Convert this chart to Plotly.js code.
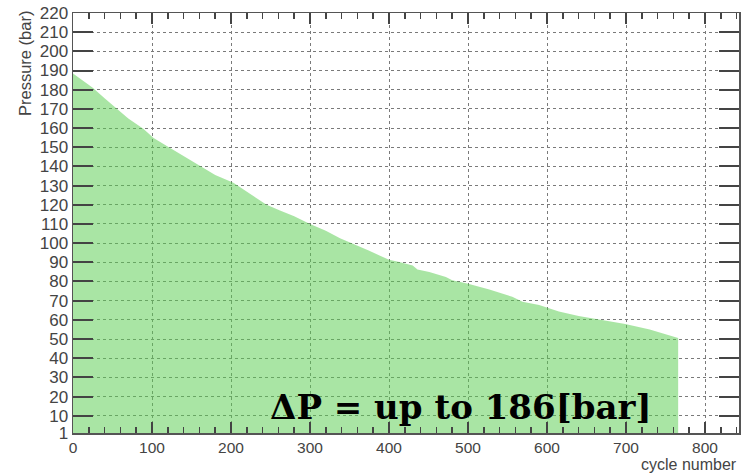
<!DOCTYPE html>
<html>
<head>
<meta charset="utf-8">
<script src="https://cdn.plot.ly/plotly-3.0.1.min.js"></script>
<style>html,body{margin:0;padding:0;background:#fff;}#chart{width:745px;height:475px;}</style>
</head>
<body>
<div id="chart"></div>
<script>
// cycle number (x) and pressure in bar (y)
const cycles = [0, 10, 25, 40, 55, 70, 89, 102, 123, 140, 161, 180, 203, 225, 245, 262, 280, 300, 320, 338, 350, 375, 388, 400, 413, 430, 436, 451, 472, 480, 499, 527, 556, 569, 590, 602, 615, 640, 666, 699, 730, 758, 765, 766];
const pressure = [188.5, 185.5, 181, 175.5, 170.3, 165, 159.6, 154.8, 149.6, 145.5, 140, 135.5, 131.5, 125.5, 120, 117, 114, 110, 106.5, 102.5, 100.5, 96, 93.6, 91.4, 90.1, 88.4, 86.2, 85, 82.4, 80.7, 79, 75.8, 72, 69.4, 67.7, 66, 64.3, 62, 60.3, 57.8, 55, 51.3, 50.5, 50.5];
const yTicks = [1, 10, 20, 30, 40, 50, 60, 70, 80, 90, 100, 110, 120, 130, 140, 150, 160, 170, 180, 190, 200, 210, 220];
const xTicks = [0, 100, 200, 300, 400, 500, 600, 700, 800];
const xTitle = "cycle number";
const yTitle = "Pressure (bar)";
const note = "ΔP = up to 186[bar]";

const yTickFont = {family: "Liberation Sans, Arial, sans-serif", size: 17, color: "#444"};
const xTickFont = {family: "Liberation Sans, Arial, sans-serif", size: 15.5, color: "#444"};

const trace = {
  x: cycles, y: pressure, type: "scatter", mode: "lines",
  line: {width: 0, color: "rgba(0,0,0,0)"},
  fill: "tozeroy", fillcolor: "rgba(90,205,80,0.52)",
  hoverinfo: "skip", showlegend: false
};

const layout = {
  width: 745, height: 475,
  margin: {l: 73, r: 6, t: 13, b: 42, pad: 0},
  paper_bgcolor: "#fff", plot_bgcolor: "#fff",
  showlegend: false,
  xaxis: {
    range: [0, 843], tickmode: "array", tickvals: xTicks, ticktext: xTicks.map(String),
    ticks: "inside", ticklen: 11, tickwidth: 2, tickcolor: "#444",
    minor: {dtick: 20, tick0: 0, ticks: "inside", ticklen: 6, tickwidth: 1.5, tickcolor: "#444", showgrid: false},
    showline: true, linecolor: "#555", linewidth: 1.5, mirror: "allticks",
    showgrid: true, gridcolor: "#7a7a7a", griddash: "dot", gridwidth: 1,
    zeroline: false, tickfont: xTickFont
  },
  yaxis: {
    range: [1, 220], tickmode: "array", tickvals: yTicks, ticktext: yTicks.map(String),
    ticks: "inside", ticklen: 20, tickwidth: 2, tickcolor: "#444",
    showline: true, linecolor: "#555", linewidth: 1.5, mirror: "allticks",
    showgrid: true, gridcolor: "#7a7a7a", griddash: "dot", gridwidth: 1,
    zeroline: false, tickfont: yTickFont
  },
  annotations: [
    {text: yTitle, xref: "paper", yref: "paper", x: -0.071, y: 1.01, xanchor: "center", yanchor: "top",
     textangle: -90, showarrow: false, font: {family: "Liberation Sans, Arial, sans-serif", size: 16.5, color: "#444"}},
    {text: xTitle, xref: "paper", yref: "paper", x: 1.0, y: -0.075, xanchor: "right", yanchor: "middle",
     showarrow: false, font: {family: "Liberation Sans, Arial, sans-serif", size: 16, color: "#444"}},
    {text: "<b>" + note + "</b>", xref: "paper", yref: "paper", x: 0.293, y: 0.062, xanchor: "left", yanchor: "middle",
     showarrow: false, font: {family: "DejaVu Serif, serif", size: 34, color: "#000"}}
  ]
};

Plotly.newPlot("chart", [trace], layout, {staticPlot: true, displayModeBar: false});
</script>
</body>
</html>
